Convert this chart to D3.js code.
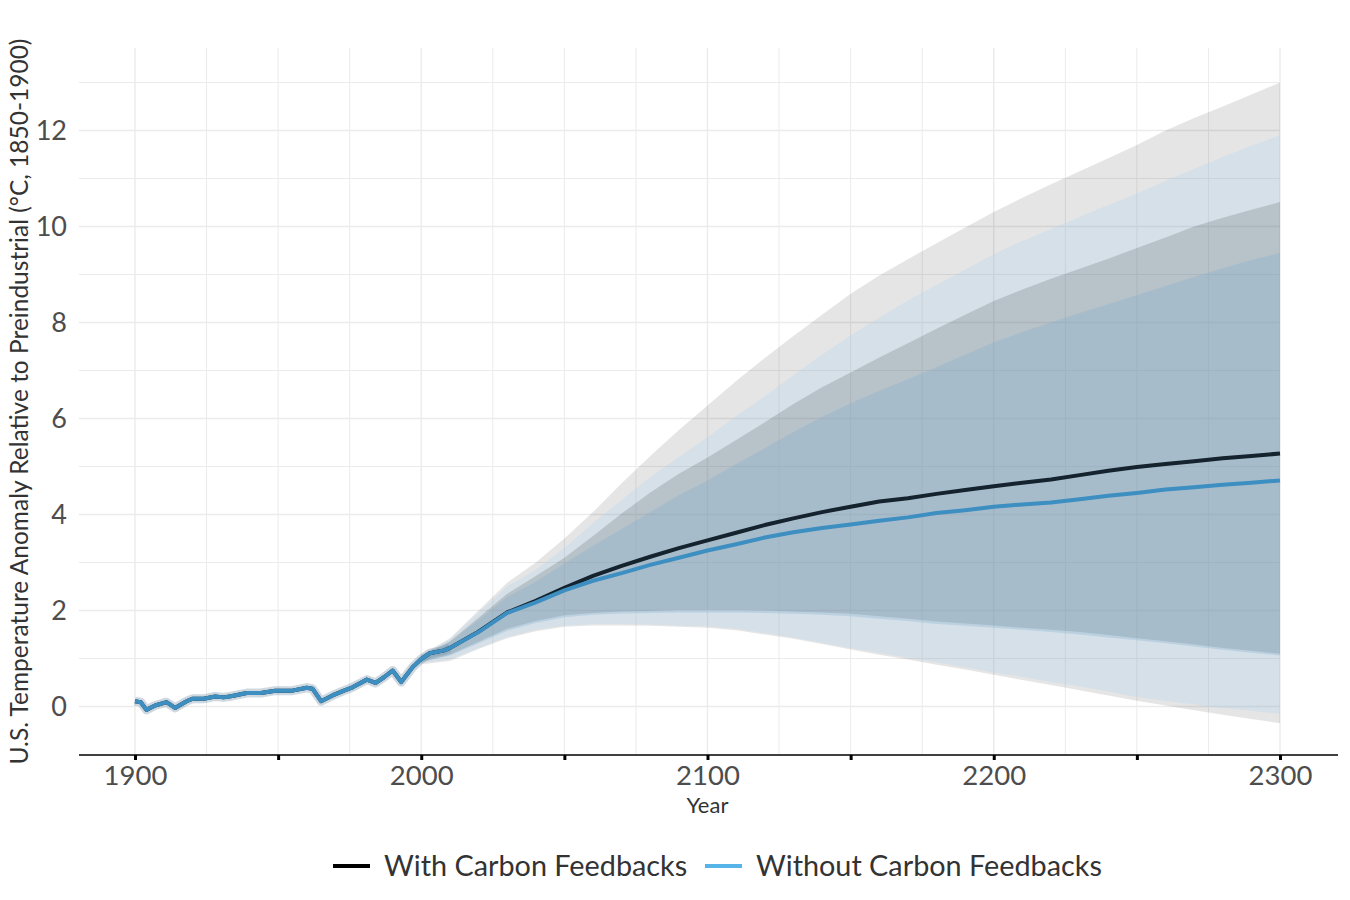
<!DOCTYPE html>
<html>
<head>
<meta charset="utf-8">
<script src="https://cdn.jsdelivr.net/npm/d3@7"></script>
<style>
  body { margin: 0; background: #fff; }
  text { font-family: Lato, sans-serif; }
</style>
</head>
<body>
<div id="chart"></div>
<script>
// observed record (shared by both series)
const histYears = [1900, 1902, 1904, 1907, 1911, 1914, 1918, 1920, 1924, 1928, 1931, 1934, 1939, 1944, 1949, 1955, 1960, 1962, 1965, 1969, 1973, 1976, 1981, 1984, 1987, 1990, 1993, 1997, 2000, 2003, 2008];
const histTemp = [0.11, 0.09, -0.07, 0.02, 0.09, -0.03, 0.11, 0.16, 0.16, 0.21, 0.19, 0.22, 0.28, 0.28, 0.33, 0.33, 0.39, 0.37, 0.11, 0.23, 0.33, 0.40, 0.56, 0.49, 0.61, 0.75, 0.51, 0.82, 0.99, 1.11, 1.17];

// projected medians
const futureYears = [2010, 2020, 2030, 2040, 2050, 2060, 2070, 2080, 2090, 2100, 2110, 2120, 2130, 2140, 2150, 2160, 2170, 2180, 2190, 2200, 2210, 2220, 2230, 2240, 2250, 2260, 2270, 2280, 2290, 2300];
const withFeedback = [1.22, 1.56, 1.96, 2.2, 2.47, 2.72, 2.93, 3.12, 3.3, 3.46, 3.62, 3.78, 3.92, 4.05, 4.16, 4.27, 4.34, 4.43, 4.51, 4.59, 4.66, 4.73, 4.82, 4.91, 4.99, 5.05, 5.11, 5.17, 5.22, 5.27];
const withoutFeedback = [1.22, 1.55, 1.95, 2.17, 2.42, 2.62, 2.78, 2.95, 3.1, 3.25, 3.38, 3.52, 3.63, 3.72, 3.79, 3.87, 3.94, 4.03, 4.09, 4.16, 4.21, 4.25, 4.32, 4.39, 4.45, 4.52, 4.57, 4.62, 4.66, 4.71];

// uncertainty ranges
const bandYears = [2000, 2010, 2020, 2030, 2040, 2050, 2060, 2070, 2080, 2090, 2100, 2110, 2120, 2130, 2140, 2150, 2160, 2170, 2180, 2190, 2200, 2210, 2220, 2230, 2240, 2250, 2260, 2270, 2280, 2290, 2300];
const withOuterHigh = [1.08, 1.42, 2.0, 2.58, 3.0, 3.5, 4.05, 4.65, 5.22, 5.76, 6.27, 6.78, 7.26, 7.72, 8.16, 8.6, 8.98, 9.32, 9.65, 9.98, 10.3, 10.6, 10.88, 11.15, 11.42, 11.7, 12.0, 12.26, 12.5, 12.75, 13.0];
const withOuterLow = [0.88, 0.95, 1.2, 1.42, 1.57, 1.66, 1.69, 1.69, 1.68, 1.66, 1.64, 1.59, 1.5, 1.41, 1.3, 1.19, 1.08, 0.98, 0.87, 0.77, 0.66, 0.55, 0.45, 0.34, 0.23, 0.12, 0.02, -0.08, -0.17, -0.26, -0.35];
const withInnerHigh = [1.05, 1.36, 1.85, 2.35, 2.72, 3.1, 3.55, 4.02, 4.46, 4.85, 5.19, 5.55, 5.92, 6.3, 6.65, 6.96, 7.27, 7.57, 7.87, 8.16, 8.45, 8.69, 8.91, 9.12, 9.33, 9.55, 9.77, 10.0, 10.18, 10.35, 10.51];
const withInnerLow = [0.93, 1.08, 1.35, 1.62, 1.78, 1.9, 1.95, 1.98, 1.99, 2.01, 2.01, 2.01, 2.0, 1.98, 1.96, 1.93, 1.88, 1.83, 1.77, 1.73, 1.69, 1.64, 1.6, 1.55, 1.49, 1.42, 1.36, 1.29, 1.22, 1.16, 1.1];
const withoutOuterHigh = [1.06, 1.4, 1.95, 2.5, 2.85, 3.3, 3.82, 4.3, 4.78, 5.2, 5.61, 6.05, 6.46, 6.9, 7.33, 7.73, 8.1, 8.46, 8.78, 9.1, 9.42, 9.7, 9.95, 10.2, 10.45, 10.69, 10.95, 11.2, 11.45, 11.68, 11.9];
const withoutOuterLow = [0.9, 0.98, 1.22, 1.45, 1.6, 1.69, 1.72, 1.72, 1.71, 1.69, 1.67, 1.62, 1.53, 1.44, 1.33, 1.22, 1.12, 1.02, 0.92, 0.82, 0.71, 0.62, 0.51, 0.42, 0.31, 0.2, 0.12, 0.04, -0.03, -0.09, -0.15];
const withoutInnerHigh = [1.04, 1.34, 1.8, 2.28, 2.6, 2.98, 3.35, 3.7, 4.05, 4.4, 4.71, 5.05, 5.38, 5.72, 6.03, 6.32, 6.58, 6.82, 7.07, 7.33, 7.59, 7.8, 8.0, 8.2, 8.38, 8.57, 8.76, 8.95, 9.13, 9.3, 9.45];
const withoutInnerLow = [0.92, 1.06, 1.32, 1.58, 1.74, 1.86, 1.91, 1.94, 1.95, 1.96, 1.96, 1.96, 1.95, 1.93, 1.91, 1.88, 1.83, 1.78, 1.72, 1.68, 1.64, 1.6, 1.55, 1.5, 1.44, 1.38, 1.32, 1.25, 1.18, 1.12, 1.06];

const xLabelYears = [1900, 2000, 2100, 2200, 2300];
const xTickYears = [1900, 1950, 2000, 2050, 2100, 2150, 2200, 2250, 2300];
const yLabels = [0, 2, 4, 6, 8, 10, 12];
const legendNames = ["With Carbon Feedbacks", "Without Carbon Feedbacks"];

const width = 1350, height = 900;
const panel = { left: 79, right: 1338, top: 48, bottom: 755 };

const svg = d3.select("#chart").append("svg")
    .attr("width", width)
    .attr("height", height);

const x = d3.scaleLinear().domain([1900, 2300]).range([135, 1280]);
const y = d3.scaleLinear().domain([0, 12]).range([706.5, 130.5]);

// grid
const grid = svg.append("g");
d3.range(1900, 2301, 25).forEach(yr => {
    grid.append("line")
        .attr("x1", x(yr)).attr("x2", x(yr))
        .attr("y1", panel.top).attr("y2", panel.bottom)
        .attr("stroke", "#ebebeb")
        .attr("stroke-width", yr % 100 === 0 ? 1.4 : 1);
});
d3.range(0, 14).forEach(v => {
    grid.append("line")
        .attr("x1", panel.left).attr("x2", x(2300))
        .attr("y1", y(v)).attr("y2", y(v))
        .attr("stroke", "#ebebeb")
        .attr("stroke-width", v % 2 === 0 ? 1.4 : 1);
});

// bands
function band(lo, hi) {
    return bandYears.map((yr, i) => ({ year: yr, lo: lo[i], hi: hi[i] }));
}
const area = d3.area()
    .x(d => x(d.year))
    .y0(d => y(d.lo))
    .y1(d => y(d.hi));

const bands = [
    { data: band(withOuterLow, withOuterHigh), fill: "#000000", op: 0.1 },
    { data: band(withoutOuterLow, withoutOuterHigh), fill: "#b0d5ee", op: 0.3 },
    { data: band(withInnerLow, withInnerHigh), fill: "#000000", op: 0.135 },
    { data: band(withoutInnerLow, withoutInnerHigh), fill: "#80afd0", op: 0.3 }
];
bands.forEach(b => {
    svg.append("path")
        .attr("d", area(b.data))
        .attr("fill", b.fill)
        .attr("fill-opacity", b.op);
});

// lines
const line = d3.line()
    .x(d => x(d.year))
    .y(d => y(d.value));

const hist = histYears.map((yr, i) => ({ year: yr, value: histTemp[i] }));
const withSeries = hist.concat(futureYears.map((yr, i) => ({ year: yr, value: withFeedback[i] })));
const withoutSeries = hist.concat(futureYears.map((yr, i) => ({ year: yr, value: withoutFeedback[i] })));

// small spread around the observed record
svg.append("path")
    .attr("d", line(hist.concat([{ year: futureYears[0], value: withFeedback[0] }])))
    .attr("fill", "none")
    .attr("stroke", "#6f8fa5")
    .attr("stroke-opacity", 0.35)
    .attr("stroke-width", 9)
    .attr("stroke-linejoin", "round");

svg.append("path")
    .attr("d", line(withSeries))
    .attr("fill", "none")
    .attr("stroke", "#14232e")
    .attr("stroke-width", 4)
    .attr("stroke-linejoin", "round");

svg.append("path")
    .attr("d", line(withoutSeries))
    .attr("fill", "none")
    .attr("stroke", "#3d8ec1")
    .attr("stroke-width", 4)
    .attr("stroke-linejoin", "round");

// x axis
svg.append("line")
    .attr("x1", panel.left).attr("x2", panel.right)
    .attr("y1", panel.bottom).attr("y2", panel.bottom)
    .attr("stroke", "#000")
    .attr("stroke-width", 1.6);

const xAxis = d3.axisBottom(x)
    .tickValues(xTickYears)
    .tickSize(5)
    .tickFormat(d => xLabelYears.includes(d) ? d : "");
const gx = svg.append("g")
    .attr("transform", `translate(0,${panel.bottom})`)
    .call(xAxis);
gx.select(".domain").remove();
gx.selectAll(".tick line").attr("stroke", "#000").attr("stroke-width", 3);
gx.selectAll(".tick text")
    .attr("y", 10)
    .attr("fill", "#4d4d4d")
    .style("font-family", "Lato, sans-serif")
    .style("font-size", "27.5px");

// y axis labels
const yAxis = d3.axisLeft(y).tickValues(yLabels).tickSize(0).tickPadding(12);
const gy = svg.append("g")
    .attr("transform", `translate(${panel.left},0)`)
    .call(yAxis);
gy.select(".domain").remove();
gy.selectAll(".tick text")
    .attr("fill", "#4d4d4d")
    .style("font-family", "Lato, sans-serif")
    .style("font-size", "27px");

// axis titles
svg.append("text")
    .attr("x", x(2100))
    .attr("y", 813)
    .attr("text-anchor", "middle")
    .attr("fill", "#333")
    .style("font-size", "22px")
    .text("Year");

svg.append("text")
    .attr("transform", `translate(28,${(panel.top + panel.bottom) / 2}) rotate(-90)`)
    .attr("text-anchor", "middle")
    .attr("fill", "#333")
    .style("font-size", "24.5px")
    .text("U.S. Temperature Anomaly Relative to Preindustrial (°C, 1850-1900)");

// legend
const legendColors = ["#000000", "#56b4e9"];
const legendX = [333, 705];
legendNames.forEach((name, i) => {
    const g = svg.append("g").attr("transform", `translate(${legendX[i]},866)`);
    g.append("line")
        .attr("x1", 0).attr("x2", 37)
        .attr("stroke", legendColors[i])
        .attr("stroke-width", 4);
    g.append("text")
        .attr("x", 51)
        .attr("y", 10)
        .attr("fill", "#333")
        .style("font-size", "28.8px")
        .text(name);
});
</script>
</body>
</html>
